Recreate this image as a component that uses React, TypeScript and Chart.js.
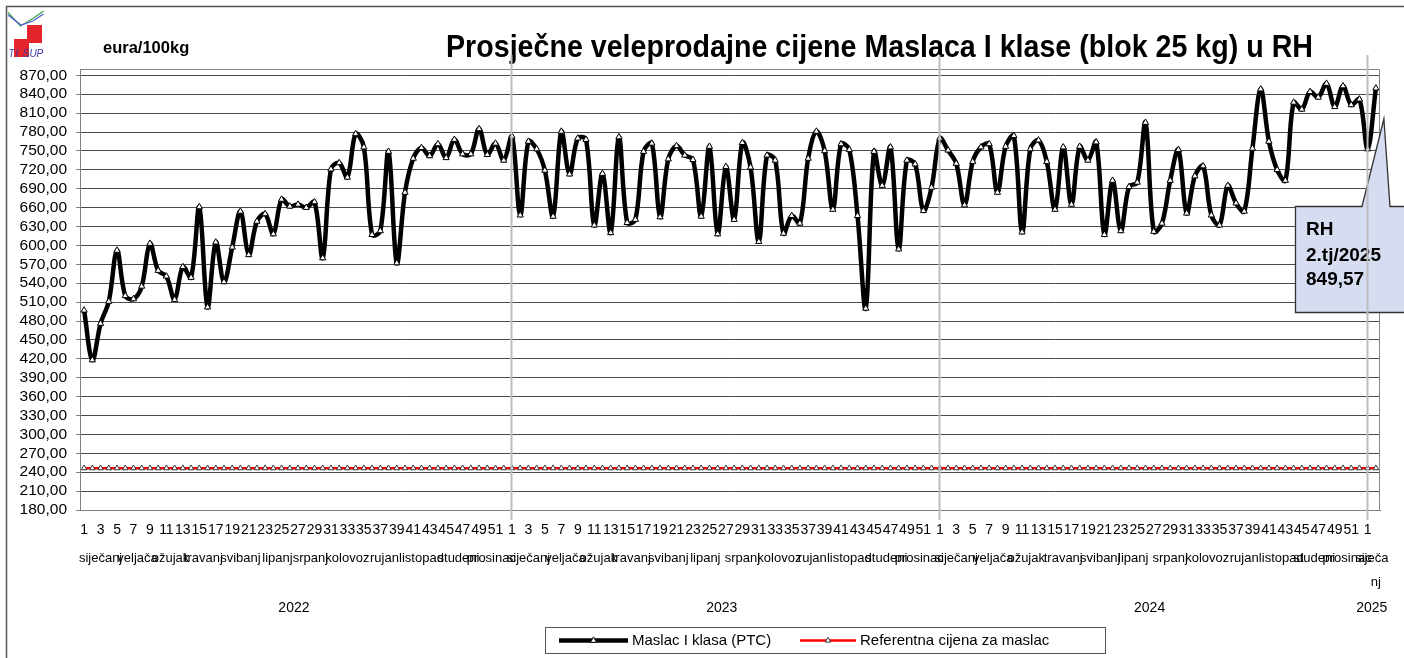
import React, { useEffect, useRef } from "react";
import { Chart, registerables } from "chart.js";

Chart.register(...registerables);

// ---------- data ----------
const years = ["2022", "2023", "2024", "2025"];
const weeksInYear = [52, 52, 52, 2];

const monthNames = [
  "siječanj", "veljača", "ožujak", "travanj", "svibanj", "lipanj",
  "srpanj", "kolovoz", "rujan", "listopad", "studeni", "prosinac",
];
const monthWeeks2022 = [5, 4, 4, 4, 5, 4, 4, 5, 4, 5, 4, 4];
const monthWeeks2023 = [5, 4, 4, 4, 5, 4, 5, 4, 4, 5, 4, 4];
const monthWeeks2024 = [5, 4, 4, 5, 4, 4, 5, 4, 5, 4, 4, 4];
const monthWeeks2025 = [2];
const monthLabel2025 = ["siječa", "nj"];

const price2022 = [
  497, 418, 476, 511, 592, 520, 515, 535, 603, 560,
  551, 514, 566, 549, 661, 502, 605, 542, 597, 654,
  585, 638, 650, 618, 673, 662, 665, 660, 669, 580,
  721, 731, 708, 777, 756, 617, 623, 749, 572, 684,
  738, 755, 742, 761, 739, 768, 745, 745, 785, 744,
  762, 735,
];
const price2023 = [
  773, 648, 765, 753, 719, 646, 781, 713, 770, 768,
  632, 714, 620, 772, 636, 641, 749, 762, 645, 737,
  758, 743, 736, 646, 757, 618, 725, 641, 763, 724,
  606, 743, 735, 619, 647, 635, 738, 781, 750, 657,
  761, 752, 647, 500, 749, 695, 756, 594, 735, 729,
  655, 692,
];
const price2024 = [
  770, 751, 730, 664, 733, 756, 761, 684, 757, 774,
  621, 753, 767, 733, 657, 756, 665, 757, 735, 764,
  617, 703, 623, 693, 700, 795, 622, 635, 703, 752,
  651, 710, 726, 648, 632, 695, 667, 654, 754, 848,
  765, 720, 703, 827, 816, 844, 835, 857, 820, 853,
  823, 832,
];
const price2025 = [753, 849.57];
const referencePrice = 246.39;

const yTicks = [
  180, 210, 240, 270, 300, 330, 360, 390, 420, 450, 480, 510,
  540, 570, 600, 630, 660, 690, 720, 750, 780, 810, 840, 870,
];

const seriesName = "Maslac I klasa (PTC)";
const refName = "Referentna cijena za maslac";
const titleText = "Prosječne veleprodajne cijene Maslaca I klase (blok 25 kg) u RH";
const unitText = "eura/100kg";
const calloutRegion = "RH";

// ---------- derived ----------
const prices = [...price2022, ...price2023, ...price2024, ...price2025];
const weekLabels: string[] = [];
weeksInYear.forEach((n) => {
  for (let w = 1; w <= n; w++) weekLabels.push(String(w));
});
const refData = prices.map(() => referencePrice);
const monthWeeks = [monthWeeks2022, monthWeeks2023, monthWeeks2024, monthWeeks2025];

const FONT = '"Liberation Sans", Arial, sans-serif';

function fmt(v: number) {
  return v.toFixed(2).replace(".", ",");
}

function tri(ctx: CanvasRenderingContext2D, x: number, y: number, r: number, fill: string, stroke: string) {
  ctx.beginPath();
  let a = 0;
  ctx.moveTo(x + Math.sin(a) * r, y - Math.cos(a) * r);
  a += (2 * Math.PI) / 3;
  ctx.lineTo(x + Math.sin(a) * r, y - Math.cos(a) * r);
  a += (2 * Math.PI) / 3;
  ctx.lineTo(x + Math.sin(a) * r, y - Math.cos(a) * r);
  ctx.closePath();
  ctx.fillStyle = fill;
  ctx.fill();
  ctx.strokeStyle = stroke;
  ctx.lineWidth = 1;
  ctx.stroke();
}

const decorPlugin = {
  id: "decor",
  beforeDraw(chart: any) {
    const ctx: CanvasRenderingContext2D = chart.ctx;
    ctx.save();
    ctx.fillStyle = "#ffffff";
    ctx.fillRect(0, 0, chart.width, chart.height);
    // outer frame (top + left)
    ctx.strokeStyle = "#555555";
    ctx.lineWidth = 1.5;
    ctx.beginPath();
    ctx.moveTo(6.5, chart.height);
    ctx.lineTo(6.5, 6.5);
    ctx.lineTo(chart.width, 6.5);
    ctx.stroke();

    // logo
    ctx.fillStyle = "#e3242b";
    ctx.fillRect(27, 25, 15, 18);
    ctx.fillRect(14, 39, 15, 18);
    ctx.lineWidth = 1.3;
    ctx.strokeStyle = "#3aa64a";
    ctx.beginPath();
    ctx.moveTo(8, 12.5);
    ctx.lineTo(20.5, 26);
    ctx.lineTo(33, 18.5);
    ctx.lineTo(43.5, 11);
    ctx.stroke();
    ctx.strokeStyle = "#5b5bd6";
    ctx.beginPath();
    ctx.moveTo(8, 15);
    ctx.lineTo(21, 25);
    ctx.lineTo(33, 21);
    ctx.lineTo(43.5, 14);
    ctx.stroke();
    ctx.fillStyle = "#3b3ba8";
    ctx.font = `italic 10px ${FONT}`;
    ctx.textAlign = "left";
    ctx.textBaseline = "alphabetic";
    const logoLetters = "TISUP";
    for (let i = 0; i < logoLetters.length; i++) {
      ctx.fillText(logoLetters[i], 8.5 + i * 7, 56.5);
    }

    // unit label
    ctx.fillStyle = "#000";
    ctx.font = `bold 16.5px ${FONT}`;
    ctx.fillText(unitText, 103, 53);

    // title (condensed)
    ctx.font = `bold 31px ${FONT}`;
    const w = ctx.measureText(titleText).width;
    ctx.translate(446, 57);
    ctx.scale(867 / w, 1);
    ctx.fillText(titleText, 0, 0);
    ctx.restore();
  },
  afterDraw(chart: any) {
    const ctx: CanvasRenderingContext2D = chart.ctx;
    const area = chart.chartArea;
    const xs = chart.scales.x;
    ctx.save();

    // plot frame top + right
    ctx.strokeStyle = "#868686";
    ctx.lineWidth = 1;
    ctx.beginPath();
    ctx.moveTo(area.left, area.top + 0.5);
    ctx.lineTo(area.right - 0.5, area.top + 0.5);
    ctx.lineTo(area.right - 0.5, area.bottom);
    ctx.stroke();

    // month + year labels
    ctx.fillStyle = "#000";
    ctx.textAlign = "center";
    ctx.textBaseline = "middle";
    let offset = 0;
    years.forEach((yr, yi) => {
      const first = offset;
      const groups = monthWeeks[yi];
      let mOff = offset;
      ctx.font = `13px ${FONT}`;
      groups.forEach((c, mi) => {
        const cx = (xs.getPixelForValue(mOff) + xs.getPixelForValue(mOff + c - 1)) / 2;
        if (yi === 3) {
          ctx.fillText(monthLabel2025[0], cx, 558);
          ctx.fillText(monthLabel2025[1], cx + 4, 582);
        } else {
          ctx.fillText(monthNames[mi], cx, 558);
        }
        mOff += c;
      });
      const last = offset + weeksInYear[yi] - 1;
      const cy = (xs.getPixelForValue(first) + xs.getPixelForValue(last)) / 2;
      ctx.font = `14px ${FONT}`;
      ctx.fillText(yr, cy, 608);
      offset += weeksInYear[yi];
    });

    // callout
    const lastIdx = prices.length - 1;
    const tipX = xs.getPixelForValue(lastIdx) + 8;
    ctx.beginPath();
    ctx.moveTo(1295.5, 206.5);
    ctx.lineTo(1362, 206.5);
    ctx.lineTo(tipX, 119);
    ctx.lineTo(1390, 206.5);
    ctx.lineTo(1420, 206.5);
    ctx.lineTo(1420, 312.5);
    ctx.lineTo(1295.5, 312.5);
    ctx.closePath();
    ctx.fillStyle = "#d7ddf0";
    ctx.fill();
    ctx.strokeStyle = "#333";
    ctx.lineWidth = 1.3;
    ctx.stroke();
    ctx.fillStyle = "#000";
    ctx.font = `bold 19px ${FONT}`;
    ctx.textAlign = "left";
    ctx.textBaseline = "alphabetic";
    ctx.fillText(calloutRegion, 1306, 235);
    ctx.fillText(`${weekLabels[lastIdx]}.tj/${years[years.length - 1]}`, 1306, 261);
    ctx.fillText(fmt(prices[lastIdx]), 1306, 285);

    // year dividers
    ctx.strokeStyle = "#bdbdbd";
    ctx.lineWidth = 2;
    let acc = 0;
    for (let yi = 0; yi < years.length - 1; yi++) {
      acc += weeksInYear[yi];
      const x = Math.round(xs.getPixelForValue(acc)) - 0.5;
      ctx.beginPath();
      ctx.moveTo(x, 55);
      ctx.lineTo(x, 520);
      ctx.stroke();
    }

    // legend
    ctx.strokeStyle = "#555";
    ctx.lineWidth = 1;
    ctx.strokeRect(545.5, 627.5, 560, 26);
    ctx.lineCap = "butt";
    ctx.strokeStyle = "#000";
    ctx.lineWidth = 4.5;
    ctx.beginPath();
    ctx.moveTo(559, 640.5);
    ctx.lineTo(628, 640.5);
    ctx.stroke();
    tri(ctx, 593.5, 640.5, 3.6, "#fff", "#000");
    ctx.strokeStyle = "#ff0000";
    ctx.lineWidth = 2.5;
    ctx.beginPath();
    ctx.moveTo(800, 640.5);
    ctx.lineTo(856, 640.5);
    ctx.stroke();
    tri(ctx, 828, 640.5, 3.2, "#fff", "#333");
    ctx.fillStyle = "#000";
    ctx.font = `15px ${FONT}`;
    ctx.textBaseline = "middle";
    ctx.fillText(seriesName, 632, 641);
    ctx.fillText(refName, 860, 641);
    ctx.restore();
  },
};

export default function App() {
  const ref = useRef<HTMLCanvasElement>(null);
  useEffect(() => {
    const chart = new Chart(ref.current as HTMLCanvasElement, {
      type: "line",
      data: {
        labels: weekLabels,
        datasets: [
          {
            label: seriesName,
            data: prices,
            borderColor: "#000000",
            borderWidth: 4.5,
            tension: 0.35,
            pointStyle: "triangle",
            pointRadius: 3.6,
            pointBackgroundColor: "#ffffff",
            pointBorderColor: "#000000",
            pointBorderWidth: 1,
            fill: false,
          },
          {
            label: refName,
            data: refData,
            borderColor: "#ff0000",
            borderWidth: 2.5,
            tension: 0,
            pointStyle: "triangle",
            pointRadius: 3.2,
            pointBackgroundColor: "#ffffff",
            pointBorderColor: "#333333",
            pointBorderWidth: 1,
            fill: false,
          },
        ],
      },
      options: {
        responsive: false,
        animation: false,
        devicePixelRatio: 1,
        layout: { padding: { top: 69, right: 24, left: 0, bottom: 0 } },
        plugins: {
          legend: { display: false },
          tooltip: { enabled: false },
          title: { display: false },
        },
        scales: {
          x: {
            type: "category",
            offset: true,
            grid: { display: false, drawTicks: false },
            border: { display: true, color: "#808080", width: 1 },
            ticks: {
              autoSkip: false,
              maxRotation: 0,
              minRotation: 0,
              padding: 12,
              color: "#000",
              font: { family: FONT, size: 14 },
              callback: (_v: any, i: number) => (i % 2 === 0 ? weekLabels[i] : ""),
            },
            afterFit: (s: any) => {
              s.height = 148;
            },
          },
          y: {
            min: 180,
            max: 880,
            afterBuildTicks: (s: any) => {
              s.ticks = yTicks.map((v) => ({ value: v }));
            },
            grid: {
              color: "#4a4a4a",
              lineWidth: 1,
              drawTicks: true,
              tickLength: 4,
              tickColor: "#808080",
            },
            border: { display: true, color: "#808080", width: 1 },
            ticks: {
              autoSkip: false,
              padding: 9,
              color: "#000",
              font: { family: FONT, size: 15.5 },
              callback: (v: any) => fmt(Number(v)),
            },
            afterFit: (s: any) => {
              s.width = 80;
            },
          },
        },
      },
      plugins: [decorPlugin],
    } as any);
    return () => chart.destroy();
  }, []);
  return (
    <div style={{ position: "fixed", left: 0, top: 0, width: 1404, height: 658, background: "#fff" }}>
      <canvas ref={ref} width={1404} height={658} style={{ display: "block", width: 1404, height: 658 }} />
    </div>
  );
}
